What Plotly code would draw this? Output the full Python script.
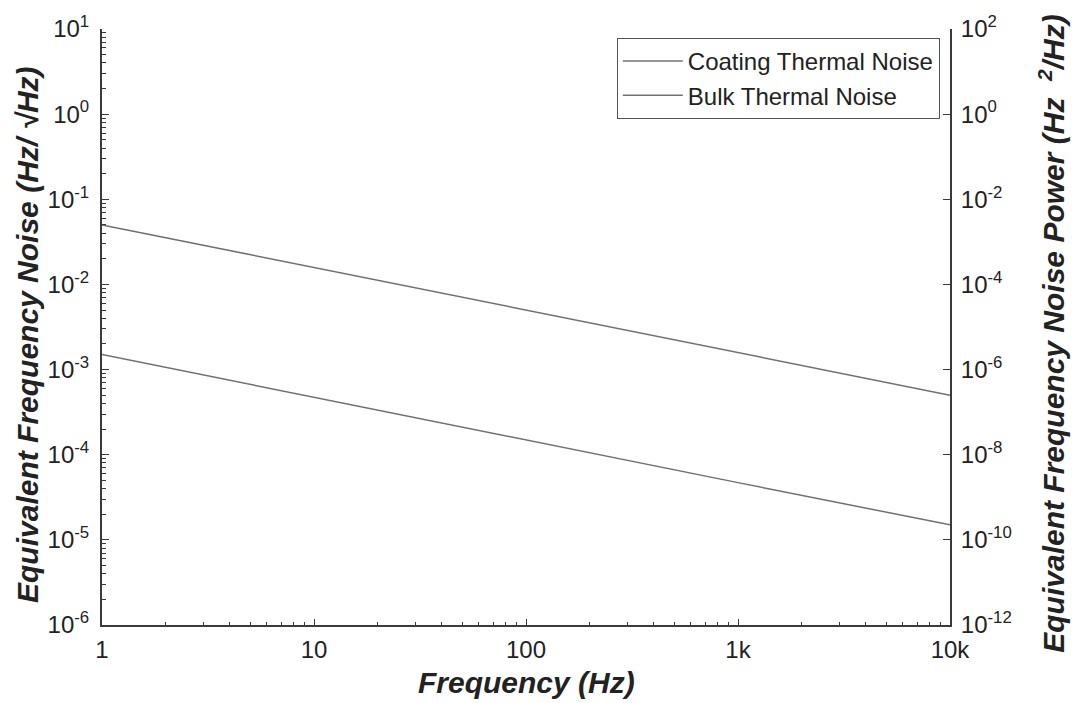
import numpy as np
import plotly.graph_objects as go

# Frequency grid (Hz) and amplitude spectral densities (Hz/sqrt(Hz))
freq_hz = [1, 10, 100, 1000, 10000]
coating_asd = [0.05, 0.0158, 0.005, 0.00158, 0.0005]
bulk_asd = [0.0015, 0.00047, 0.00015, 0.000047, 0.000015]

series_names = ["Coating Thermal Noise", "Bulk Thermal Noise"]

x_tick_vals = [1, 10, 100, 1000, 10000]
x_tick_text = ["1", "10", "100", "1k", "10k"]
left_exponents = [-6, -5, -4, -3, -2, -1, 0, 1]
right_exponents = [-12, -10, -8, -6, -4, -2, 0, 2]

FONT = "Liberation Sans, Arial, Helvetica, sans-serif"
LINE_COLOR = "#707070"
AXIS_COLOR = "#3a3a3a"


def minor_vals(lo, hi):
    vals = []
    for e in range(lo, hi):
        for m in range(2, 10):
            vals.append(m * 10.0 ** e)
    return vals


fig = go.Figure()
for name, asd in zip(series_names, [coating_asd, bulk_asd]):
    fig.add_trace(go.Scatter(
        x=freq_hz, y=asd, mode="lines", name=name,
        line=dict(color=LINE_COLOR, width=1.5),
    ))
    # Power spectral density on the right-hand axis (ASD squared)
    fig.add_trace(go.Scatter(
        x=freq_hz, y=[v ** 2 for v in asd], mode="lines", yaxis="y2",
        line=dict(color="rgba(0,0,0,0)", width=0), showlegend=False,
        hoverinfo="skip",
    ))

fig.update_layout(
    width=1075, height=703,
    margin=dict(l=102, r=125, t=25, b=78),
    paper_bgcolor="white", plot_bgcolor="white",
    font=dict(family=FONT, size=23, color="#222"),
    showlegend=True,
    legend=dict(
        x=0.988, y=0.985, xanchor="right", yanchor="top",
        bordercolor="#555", borderwidth=1, bgcolor="white",
        font=dict(size=24, color="#222"), tracegroupgap=0,
        itemwidth=60,
    ),
    xaxis=dict(
        type="log", range=[0, 4],
        tickvals=x_tick_vals, ticktext=x_tick_text,
        ticks="inside", ticklen=6, tickwidth=1, tickcolor=AXIS_COLOR,
        showline=True, linecolor=AXIS_COLOR, linewidth=2,
        showgrid=False, zeroline=False,
        tickfont=dict(size=24), ticklabelstandoff=2,
        minor=dict(tickmode="array", tickvals=minor_vals(0, 4),
                   ticks="inside", ticklen=3, tickcolor=AXIS_COLOR,
                   showgrid=False),
    ),
    yaxis=dict(
        type="log", range=[-6, 1],
        tickvals=[10.0 ** e for e in left_exponents],
        ticktext=[f"10<sup>{e}</sup>" for e in left_exponents],
        ticks="inside", ticklen=7, tickwidth=1, tickcolor=AXIS_COLOR,
        showline=True, linecolor=AXIS_COLOR, linewidth=2,
        showgrid=False, zeroline=False,
        tickfont=dict(size=24), ticklabelstandoff=6,
        minor=dict(tickmode="array", tickvals=minor_vals(-6, 1),
                   ticks="inside", ticklen=4, tickcolor=AXIS_COLOR,
                   showgrid=False),
    ),
    yaxis2=dict(
        type="log", range=[-12, 2], overlaying="y", side="right",
        tickvals=[10.0 ** e for e in right_exponents],
        ticktext=[f"10<sup>{e}</sup>" for e in right_exponents],
        ticks="inside", ticklen=7, tickwidth=1, tickcolor=AXIS_COLOR,
        showline=True, linecolor=AXIS_COLOR, linewidth=2,
        showgrid=False, zeroline=False,
        tickfont=dict(size=24), ticklabelstandoff=4,
    ),
    annotations=[
        dict(text="<b><i>Frequency (Hz)</i></b>", xref="paper", yref="paper",
             x=0.5, y=-0.097, xanchor="center", yanchor="middle",
             showarrow=False, font=dict(size=30, color="#222")),
        dict(text="<b><i>Equivalent Frequency Noise (Hz/ \u221aHz)</i></b>",
             xref="paper", yref="paper", x=-0.087, y=0.487,
             xanchor="center", yanchor="middle", textangle=-90,
             showarrow=False, font=dict(size=30, color="#222")),
        dict(text="<b><i>Equivalent Frequency Noise Power (Hz  <sup>2</sup>/Hz)</i></b>",
             xref="paper", yref="paper", x=1.12, y=0.49,
             xanchor="center", yanchor="middle", textangle=-90,
             showarrow=False, font=dict(size=30, color="#222")),
    ],
)

fig.write_html("out.html")
